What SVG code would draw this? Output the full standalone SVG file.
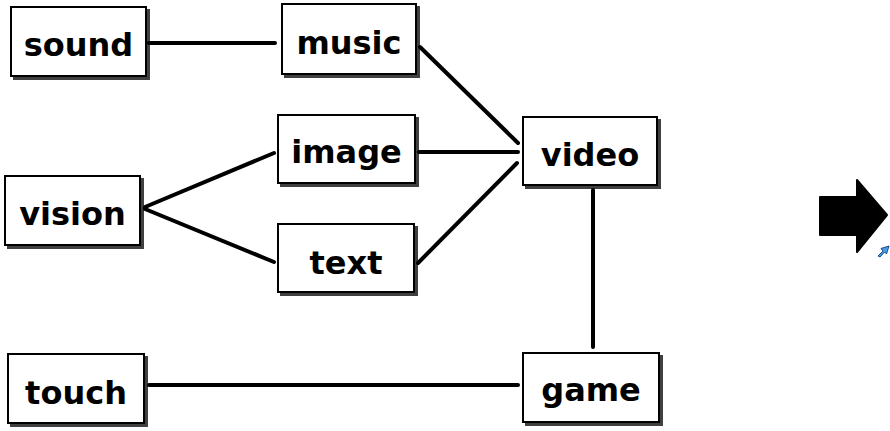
<svg xmlns="http://www.w3.org/2000/svg" width="890" height="431" viewBox="0 0 890 431">
<defs>
<filter id="sh" x="-10%" y="-10%" width="130%" height="130%">
<feDropShadow dx="3" dy="3" stdDeviation="0.7" flood-color="#000" flood-opacity="0.75"/>
</filter>
</defs>
<style>
.box{fill:#fff;stroke:#000;stroke-width:2;filter:url(#sh)}
.lbl{font-family:"DejaVu Sans",sans-serif;font-weight:bold;font-size:32px;fill:#000;text-anchor:middle}
.ln{stroke:#000;stroke-width:4;stroke-linecap:round;fill:none}
</style>
<rect width="890" height="431" fill="#fff"/>
<g id="connectors">
<line class="ln" x1="149" y1="43" x2="275" y2="43"/>
<line class="ln" x1="420" y1="47" x2="518" y2="143"/>
<line class="ln" x1="419" y1="152" x2="518" y2="152"/>
<line class="ln" x1="418" y1="263" x2="517" y2="163"/>
<line class="ln" x1="145" y1="207" x2="274" y2="153"/>
<line class="ln" x1="145" y1="209" x2="274" y2="262"/>
<line class="ln" x1="593" y1="190" x2="593" y2="347"/>
<line class="ln" x1="149" y1="385" x2="518" y2="385"/>
</g>
<g id="sound"><rect class="box" x="11" y="7" width="135" height="69"/><text class="lbl" x="78.5" y="56">sound</text></g>
<g id="music"><rect class="box" x="282" y="4" width="134" height="70"/><text class="lbl" x="349" y="54">music</text></g>
<g id="image"><rect class="box" x="278" y="115" width="137" height="68"/><text class="lbl" x="346.5" y="163">image</text></g>
<g id="vision"><rect class="box" x="5" y="176" width="135" height="69"/><text class="lbl" x="72.5" y="225">vision</text></g>
<g id="text"><rect class="box" x="278" y="224" width="136" height="68"/><text class="lbl" x="346" y="274">text</text></g>
<g id="video"><rect class="box" x="523" y="117" width="134" height="68"/><text class="lbl" x="590" y="166">video</text></g>
<g id="touch"><rect class="box" x="8" y="354" width="136" height="69"/><text class="lbl" x="76" y="404">touch</text></g>
<g id="game"><rect class="box" x="523" y="353" width="136" height="69"/><text class="lbl" x="591" y="401">game</text></g>
<g id="arrow">
<path d="M820,197 L857,197 L857,180 L887,215 L857,252 L857,235 L820,235 Z" fill="#000" stroke="#000" stroke-width="2" stroke-linejoin="round"/>
</g>
<g id="icon">
<path d="M878,256 L883,251 L881,248.5 L889,246 L886.5,254 L884.5,252 L880,257 Z" fill="#4a9ae8" stroke="#1a4f8a" stroke-width="1" stroke-linejoin="round"/>
</g>
</svg>
